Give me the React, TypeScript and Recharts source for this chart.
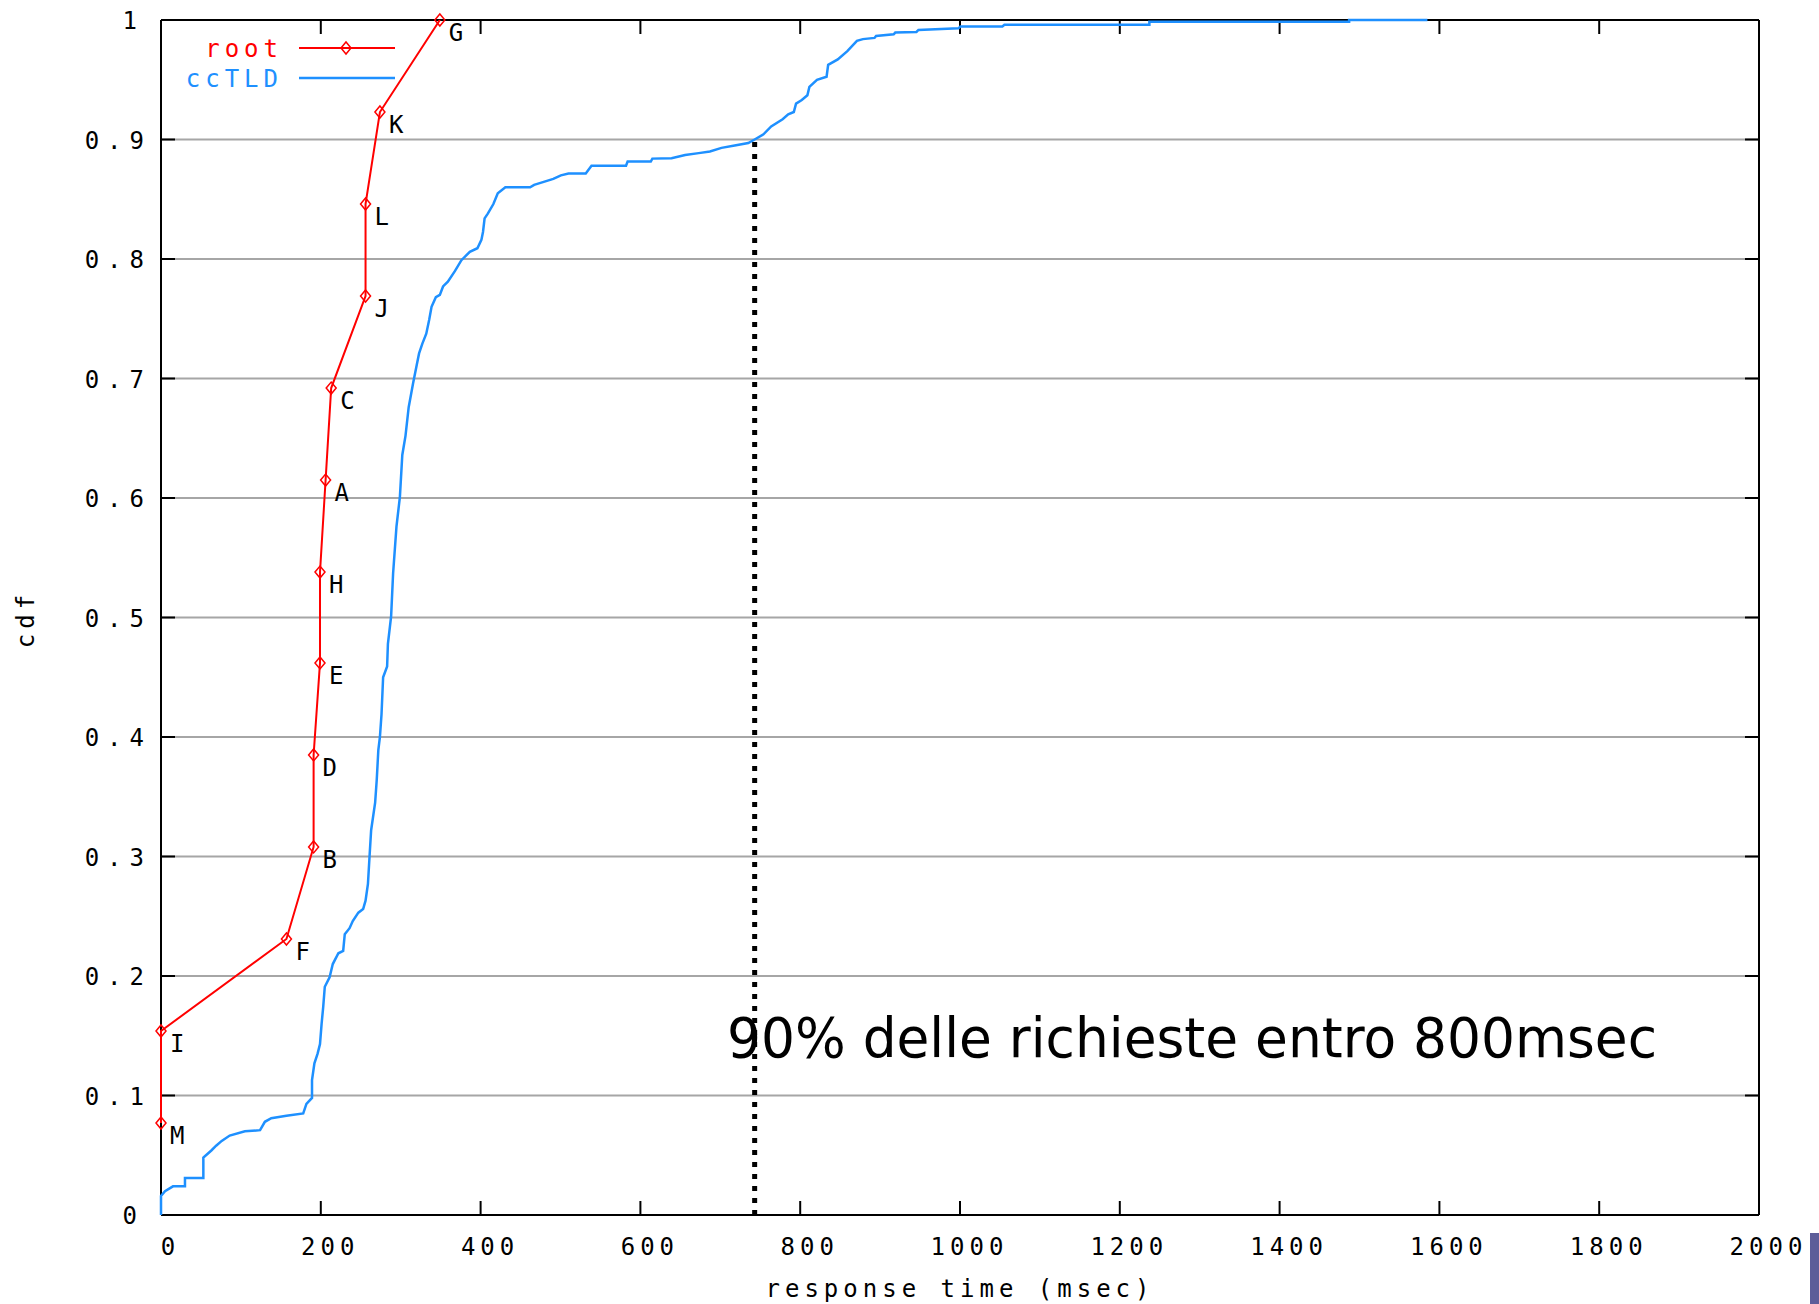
import React from "react";
import { CartesianGrid, Line, LineChart, ReferenceLine, XAxis, YAxis } from "recharts";

const W = 1819;
const H = 1304;
const PIX = "'DejaVu Sans Mono', 'Liberation Mono', monospace";
const RED = "#ff0000";
const BLUE = "#1e90ff";

const X_TICKS = [0, 200, 400, 600, 800, 1000, 1200, 1400, 1600, 1800, 2000];
const Y_TICKS = [0, 0.1, 0.2, 0.3, 0.4, 0.5, 0.6, 0.7, 0.8, 0.9, 1];
const Y_TICK_LABELS = ["0", "0.1", "0.2", "0.3", "0.4", "0.5", "0.6", "0.7", "0.8", "0.9", "1"];

// root servers, sorted by response time
const ROOT_NAMES = ["M", "I", "F", "B", "D", "E", "H", "A", "C", "J", "L", "K", "G"];
const ROOT_MS = [0, 0, 157, 191, 191, 199, 199, 206, 213, 256, 256, 274, 349];
const ROOT_CDF = [0.077, 0.154, 0.231, 0.308, 0.385, 0.462, 0.538, 0.615, 0.692, 0.769, 0.846, 0.923, 1.0];

// ccTLD cdf
const CCTLD_MS = [
  0, 0, 5, 15, 30, 30, 53, 53, 63, 69, 76, 86, 105, 124, 130, 138, 157, 178, 182, 189, 189, 192,
  196, 199, 201, 203, 205, 211, 215, 222, 228, 230, 236, 240, 247, 253, 256, 259, 261, 263, 268, 270,
  272, 274, 276, 278, 283, 284, 288, 290.5, 294.7, 299, 302, 306, 310, 315.5, 320, 323, 327, 332,
  335.6, 338.6, 344, 349, 353, 359, 368, 376, 386.5, 396, 401, 403, 405, 409, 416, 421.5, 431, 462,
  467, 479, 491, 500.5, 510, 531.6, 538.8, 582, 584, 613, 615, 639, 656, 673, 687, 701.5, 718, 735,
  743, 754, 763.7, 778, 785, 792, 794.8, 802, 809, 811.5, 821, 833, 835, 847, 859, 871, 878.5, 893,
  895, 917, 919, 945.5, 948, 998, 1000.5, 1053, 1055.6, 1237, 1237, 1487, 1487, 1585,
];
const CCTLD_CDF = [
  0, 0.016, 0.02, 0.024, 0.024, 0.031, 0.031, 0.048, 0.054, 0.058, 0.062, 0.0665, 0.07, 0.071, 0.078,
  0.081, 0.083, 0.085, 0.093, 0.098, 0.113, 0.127, 0.135, 0.143, 0.16, 0.174, 0.191, 0.199, 0.21,
  0.219, 0.221, 0.235, 0.24, 0.246, 0.253, 0.256, 0.263, 0.277, 0.3, 0.322, 0.345, 0.364, 0.389, 0.4,
  0.419, 0.45, 0.459, 0.478, 0.501, 0.537, 0.576, 0.601, 0.636, 0.652, 0.676, 0.696, 0.711, 0.721,
  0.729, 0.7375, 0.749, 0.76, 0.768, 0.77, 0.777, 0.781, 0.79, 0.799, 0.806, 0.809, 0.816, 0.8226,
  0.834, 0.838, 0.846, 0.855, 0.86, 0.86, 0.862, 0.8645, 0.867, 0.87, 0.8716, 0.8716, 0.878, 0.878,
  0.8815, 0.8815, 0.884, 0.8844, 0.887, 0.8886, 0.89, 0.893, 0.895, 0.897, 0.9, 0.9043, 0.911, 0.917,
  0.921, 0.923, 0.93, 0.933, 0.937, 0.944, 0.95, 0.9525, 0.9625, 0.967, 0.974, 0.9825, 0.984, 0.985,
  0.9867, 0.988, 0.9895, 0.99, 0.9917, 0.993, 0.9946, 0.9946, 0.996, 0.996, 0.9985, 0.9985, 1.0, 1.0,
];

const MARK_MS = 743;
const MARK_CDF = 0.9;
const NOTE = "90% delle richieste entro 800msec";

const rootData = ROOT_MS.map((x, i) => ({ x, y: ROOT_CDF[i], name: ROOT_NAMES[i] }));
const cctldData = CCTLD_MS.map((x, i) => ({ x, y: CCTLD_CDF[i] }));

const axisStroke = { stroke: "#000", strokeWidth: 2 };

function XTick({ x, y, payload }: any) {
  return (
    <text x={x + 9.5} y={y + 40} textAnchor="middle" fontFamily={PIX} fontSize={24} letterSpacing={5} fill="#000">
      {payload.value}
    </text>
  );
}

function YTick({ x, y, index }: any) {
  const label = Y_TICK_LABELS[index];
  const shift = label.length === 1 ? 7 : 0;
  return (
    <text x={x - 9 - shift} y={y + 9} textAnchor="end" fontFamily={PIX} fontSize={24} letterSpacing={8} fill="#000">
      {label}
    </text>
  );
}

function EmptyTick() {
  return <g />;
}

function Diamond({ cx, cy }: { cx: number; cy: number }) {
  return (
    <path
      d={`M${cx - 5},${cy}L${cx},${cy - 6}L${cx + 5},${cy}L${cx},${cy + 6}Z`}
      fill="none"
      stroke={RED}
      strokeWidth={1.5}
    />
  );
}

function RootDot(props: any) {
  const { cx, cy, index } = props;
  return (
    <g key={`root-${index}`}>
      <Diamond cx={cx} cy={cy} />
      <text x={cx + 9} y={cy + 21} fontFamily={PIX} fontSize={24} fill="#000">
        {ROOT_NAMES[index]}
      </text>
    </g>
  );
}

export default function App() {
  return (
    <div style={{ position: "absolute", left: 0, top: 0, width: W, height: H, background: "#fff" }}>
      <LineChart width={W} height={H} margin={{ top: 19, right: 59, bottom: 29, left: 61 }}>
        <CartesianGrid vertical={false} stroke="#a6a6a6" strokeWidth={2} />
        <XAxis
          dataKey="x"
          type="number"
          domain={[0, 2000]}
          ticks={X_TICKS}
          height={60}
          tickSize={-14}
          tickMargin={14}
          tick={XTick}
          axisLine={axisStroke}
          tickLine={axisStroke}
        />
        <XAxis
          xAxisId="top"
          orientation="top"
          dataKey="x"
          type="number"
          domain={[0, 2000]}
          ticks={X_TICKS}
          height={1}
          tickSize={-14}
          tick={EmptyTick}
          axisLine={axisStroke}
          tickLine={axisStroke}
        />
        <YAxis
          dataKey="y"
          type="number"
          domain={[0, 1]}
          ticks={Y_TICKS}
          width={100}
          tickSize={-14}
          tickMargin={14}
          tick={YTick}
          axisLine={axisStroke}
          tickLine={axisStroke}
        />
        <YAxis
          yAxisId="right"
          orientation="right"
          dataKey="y"
          type="number"
          domain={[0, 1]}
          ticks={Y_TICKS}
          width={1}
          tickSize={-14}
          tick={EmptyTick}
          axisLine={axisStroke}
          tickLine={axisStroke}
        />
        <Line
          data={cctldData}
          xAxisId="top"
          yAxisId="right"
          dataKey="y"
          type="linear"
          stroke={BLUE}
          strokeWidth={2.5}
          dot={false}
          isAnimationActive={false}
          zIndex={600}
        />
        <Line
          data={rootData}
          dataKey="y"
          type="linear"
          stroke={RED}
          strokeWidth={2}
          dot={RootDot}
          isAnimationActive={false}
          zIndex={600}
        />
        <ReferenceLine
          segment={[
            { x: MARK_MS, y: 0 },
            { x: MARK_MS, y: MARK_CDF },
          ]}
          stroke="#000"
          strokeWidth={5}
          strokeDasharray="5 7"
          zIndex={650}
        />
      </LineChart>

      <svg width={W} height={H} style={{ position: "absolute", left: 0, top: 0, pointerEvents: "none" }}>
        {/* legend */}
        <text x={283} y={57} textAnchor="end" fontFamily={PIX} fontSize={24} letterSpacing={5} fill={RED}>
          root
        </text>
        <line x1={299} x2={395} y1={48} y2={48} stroke={RED} strokeWidth={2} />
        <Diamond cx={346} cy={48} />
        <text x={283} y={87} textAnchor="end" fontFamily={PIX} fontSize={24} letterSpacing={5} fill={BLUE}>
          ccTLD
        </text>
        <line x1={299} x2={395} y1={78} y2={78} stroke={BLUE} strokeWidth={2.5} />

        {/* axis titles */}
        <text x={960} y={1297} textAnchor="middle" fontFamily={PIX} fontSize={24} letterSpacing={5} fill="#000">
          response time (msec)
        </text>
        <text
          x={34}
          y={619}
          textAnchor="middle"
          transform="rotate(-90 34 619)"
          fontFamily={PIX}
          fontSize={24}
          letterSpacing={5}
          fill="#000"
        >
          cdf
        </text>

        {/* annotation */}
        <text
          x={727}
          y={1057}
          fontFamily="'DejaVu Sans', sans-serif"
          fontSize={55}
          textLength={930}
          lengthAdjust="spacingAndGlyphs"
          fill="#000"
        >
          {NOTE}
        </text>
      </svg>
      <div style={{ position: "absolute", left: 1810, top: 1233, width: 9, height: 71, background: "#5d5d99" }} />
    </div>
  );
}
